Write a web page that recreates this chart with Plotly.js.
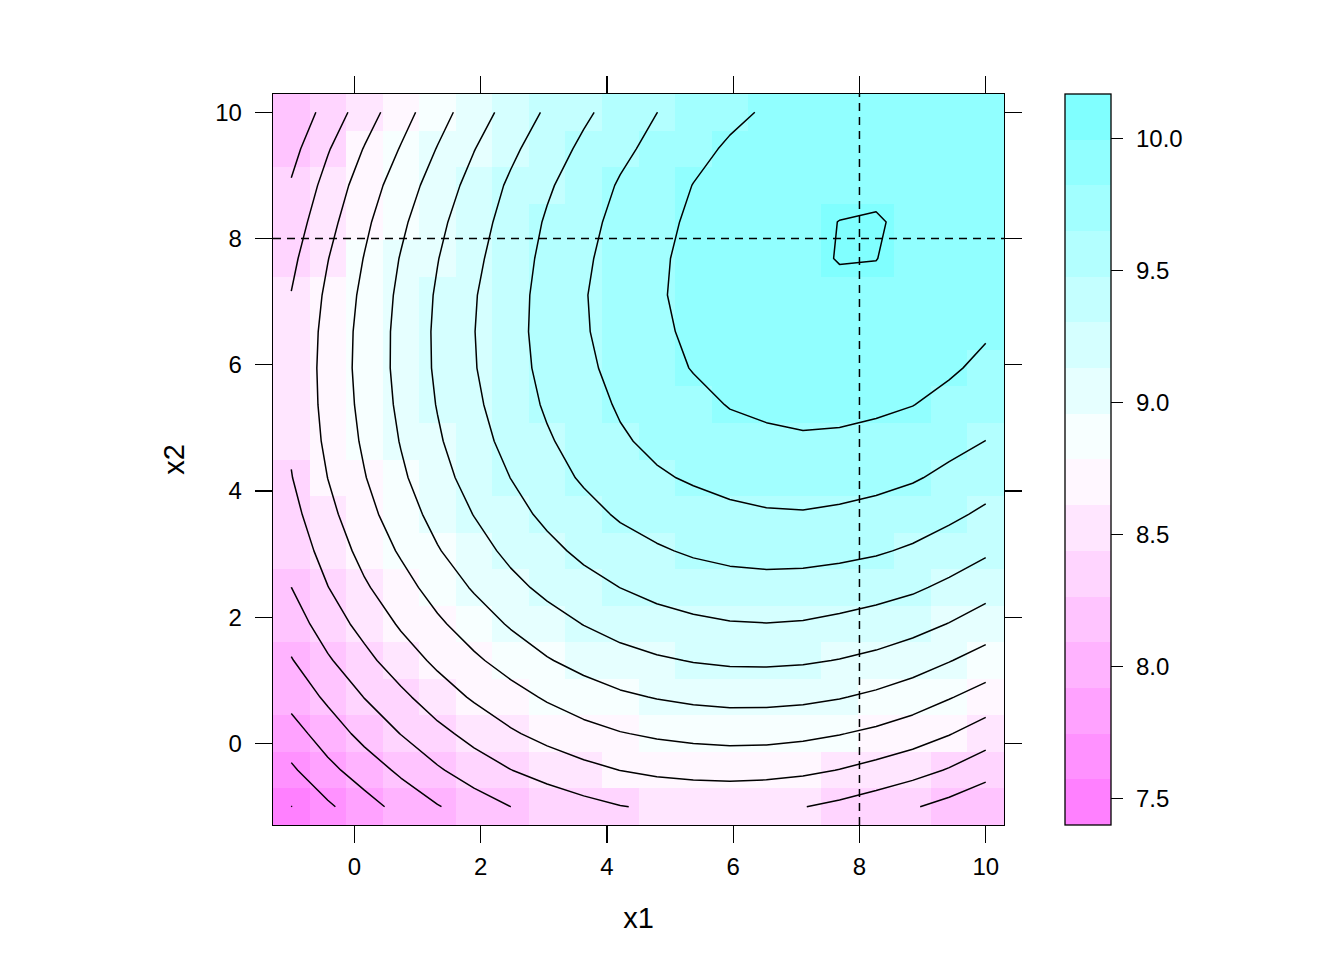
<!DOCTYPE html>
<html>
<head>
<meta charset="utf-8">
<script src="https://cdn.plot.ly/plotly-3.0.1.min.js"></script>
<style>html,body{margin:0;padding:0;background:#fff}</style>
</head>
<body>
<div id="chart" style="width:1344px;height:960px"></div>
<script>
const x1grid = [-1,-0.4211,0.1579,0.7368,1.3158,1.8947,2.4737,3.0526,3.6316,4.2105,4.7895,5.3684,5.9474,6.5263,7.1053,7.6842,8.2632,8.8421,9.4211,10];
const x2grid = [-1,-0.4211,0.1579,0.7368,1.3158,1.8947,2.4737,3.0526,3.6316,4.2105,4.7895,5.3684,5.9474,6.5263,7.1053,7.6842,8.2632,8.8421,9.4211,10];
const row00 = [7.5705,7.719,7.852,7.974,8.082,8.178,8.265,8.33,8.385,8.432,8.46,8.475,8.48,8.47,8.443,8.40,8.345,8.28,8.21,8.135];
const row01 = [7.719,7.875,8.0,8.125,8.245,8.35,8.435,8.505,8.565,8.613,8.645,8.662,8.668,8.662,8.643,8.607,8.556,8.50,8.425,8.329];
const row02 = [7.852,8.0,8.145,8.27,8.39,8.495,8.59,8.665,8.727,8.776,8.809,8.83,8.843,8.839,8.822,8.791,8.75,8.695,8.62,8.528];
const row03 = [7.974,8.125,8.27,8.40,8.53,8.632,8.72,8.805,8.875,8.93,8.966,8.991,9.005,9.005,8.993,8.967,8.925,8.87,8.795,8.715];
const row04 = [8.082,8.245,8.39,8.53,8.645,8.755,8.855,8.945,9.015,9.07,9.11,9.138,9.155,9.158,9.149,9.125,9.09,9.035,8.965,8.888];
const row05 = [8.178,8.35,8.495,8.632,8.755,8.87,8.975,9.065,9.135,9.195,9.24,9.272,9.294,9.30,9.292,9.265,9.232,9.19,9.125,9.048];
const row06 = [8.265,8.435,8.59,8.72,8.855,8.975,9.085,9.17,9.245,9.305,9.355,9.39,9.413,9.422,9.417,9.40,9.37,9.33,9.268,9.194];
const row07 = [8.33,8.505,8.665,8.805,8.945,9.065,9.17,9.26,9.34,9.404,9.458,9.497,9.522,9.533,9.53,9.516,9.494,9.455,9.397,9.328];
const row08 = [8.385,8.565,8.727,8.875,9.015,9.135,9.245,9.34,9.419,9.498,9.546,9.587,9.617,9.635,9.64,9.625,9.601,9.562,9.51,9.447];
const row09 = [8.432,8.613,8.776,8.93,9.07,9.195,9.305,9.404,9.498,9.575,9.63,9.667,9.697,9.716,9.722,9.714,9.695,9.665,9.612,9.55];
const row10 = [8.46,8.645,8.809,8.966,9.11,9.24,9.355,9.458,9.546,9.63,9.685,9.727,9.768,9.789,9.803,9.797,9.777,9.74,9.697,9.648];
const row11 = [8.475,8.662,8.83,8.991,9.138,9.272,9.39,9.497,9.587,9.667,9.727,9.779,9.83,9.855,9.87,9.865,9.85,9.826,9.775,9.717];
const row12 = [8.48,8.668,8.843,9.005,9.155,9.294,9.413,9.522,9.617,9.697,9.768,9.83,9.88,9.905,9.925,9.92,9.905,9.88,9.845,9.785];
const row13 = [8.47,8.662,8.839,9.005,9.158,9.30,9.422,9.533,9.635,9.716,9.789,9.855,9.905,9.94,9.957,9.955,9.945,9.92,9.885,9.84];
const row14 = [8.443,8.643,8.822,8.993,9.149,9.292,9.417,9.53,9.64,9.722,9.803,9.87,9.925,9.957,9.97,9.98,9.98,9.955,9.92,9.87];
const row15 = [8.40,8.607,8.791,8.967,9.125,9.265,9.40,9.516,9.625,9.714,9.797,9.865,9.92,9.955,9.98,9.9985,9.9965,9.975,9.935,9.89];
const row16 = [8.345,8.556,8.75,8.925,9.09,9.232,9.37,9.494,9.601,9.695,9.777,9.85,9.905,9.945,9.98,9.9965,9.9995,9.985,9.945,9.90];
const row17 = [8.28,8.50,8.695,8.87,9.035,9.19,9.33,9.455,9.562,9.665,9.74,9.826,9.88,9.92,9.955,9.975,9.985,9.98,9.94,9.90];
const row18 = [8.21,8.425,8.62,8.795,8.965,9.125,9.268,9.397,9.51,9.612,9.697,9.775,9.845,9.885,9.92,9.935,9.945,9.94,9.93,9.895];
const row19 = [8.135,8.329,8.528,8.715,8.888,9.048,9.194,9.328,9.447,9.55,9.648,9.717,9.785,9.84,9.87,9.89,9.90,9.90,9.895,9.88];
const zMatrix = [row00,row01,row02,row03,row04,row05,row06,row07,row08,row09,row10,row11,row12,row13,row14,row15,row16,row17,row18,row19];

const bandColors = ['#FF80FF','#FF91FF','#FFA2FF','#FFB3FF','#FFC4FF','#FFD5FF','#FFE6FF','#FFF7FF','#F7FFFF','#E6FFFF','#D5FFFF','#C4FFFF','#B3FFFF','#A2FFFF','#91FFFF','#80FFFF'];
const zLow = 7.4005, zHigh = 10.168;
const contourStart = 7.5735, contourEnd = 9.9956, contourStep = 0.173;
const colorbarTicks = [7.5,8.0,8.5,9.0,9.5,10.0];
const axisTicks = [0,2,4,6,8,10];
const axisRange = [-1.2895,10.2895];
const refValue = [8,8];

const scale = [];
bandColors.forEach((c,i)=>{ scale.push([i/bandColors.length,c]); scale.push([(i+1)/bandColors.length,c]); });
const font = 'Liberation Sans, Arial, sans-serif';

const axisBase = {
  range: axisRange, autorange:false, tickmode:'array', tickvals:axisTicks, ticktext:axisTicks.map(String),
  ticks:'outside', ticklen:17, tickwidth:1.3, tickcolor:'#000', mirror:'ticks', showline:true,
  linecolor:'#000', linewidth:1.3, showgrid:false, zeroline:false,
  tickfont:{family:font,size:24,color:'#000'}, automargin:false
};

const traces = [
  {type:'heatmap', x:x1grid, y:x2grid, z:zMatrix, colorscale:scale, zmin:zLow, zmax:zHigh, zsmooth:false, hoverinfo:'skip',
   colorbar:{thicknessmode:'pixels',thickness:46,lenmode:'fraction',len:1,x:(1065-273)/731,xanchor:'left',xref:'paper',y:0.5,yanchor:'middle',ypad:0,xpad:0,
     outlinecolor:'#000',outlinewidth:1.3,borderwidth:0,ticks:'outside',ticklen:12,tickwidth:1.3,tickcolor:'#000',
     tickmode:'array',tickvals:colorbarTicks,ticktext:colorbarTicks.map(v=>'\u2004'+v.toFixed(1)),tickfont:{family:font,size:24,color:'#000'}}},
  {type:'contour', x:x1grid, y:x2grid, z:zMatrix, showscale:false, hoverinfo:'skip', connectgaps:true,
   contours:{coloring:'none',start:contourStart,end:contourEnd,size:contourStep,showlabels:false},
   line:{color:'#000',width:1.5,smoothing:0}},
  {type:'scatter', mode:'lines', x:axisRange, y:[refValue[1],refValue[1]], line:{color:'#000',width:1.5,dash:'8px,6px'}, hoverinfo:'skip', showlegend:false},
  {type:'scatter', mode:'lines', x:[refValue[0],refValue[0]], y:axisRange, line:{color:'#000',width:1.5,dash:'8px,6px'}, hoverinfo:'skip', showlegend:false}
];

const layout = {
  width:1344, height:960, autosize:false, showlegend:false,
  margin:{l:273,r:340,t:94,b:135,pad:0},
  paper_bgcolor:'#fff', plot_bgcolor:'#fff',
  font:{family:font,color:'#000',size:24},
  xaxis:Object.assign({},axisBase,{ticklabelstandoff:3,title:{text:'x1',font:{family:font,size:29,color:'#000'},standoff:28}}),
  yaxis:Object.assign({},axisBase,{ticklabelstandoff:8,title:{text:'x2',font:{family:font,size:29,color:'#000'},standoff:22}})
};
Plotly.newPlot('chart',traces,layout,{displayModeBar:false,staticPlot:true});
</script>
</body>
</html>
